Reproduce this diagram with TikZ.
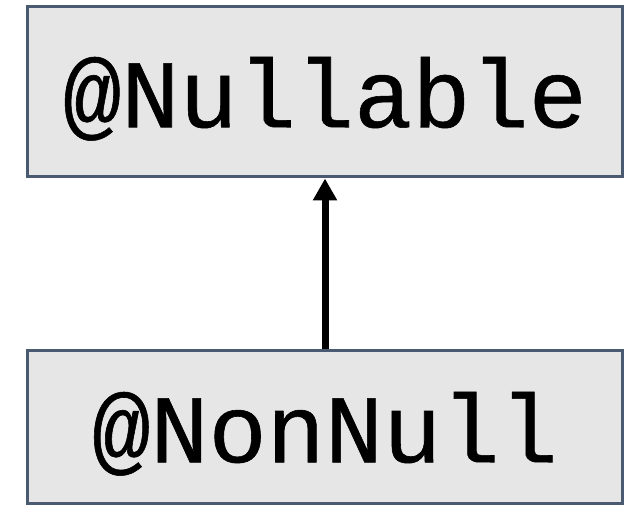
\documentclass[tikz,border=0pt]{standalone}
\usepackage{fontspec}
\setmonofont[FakeBold=0.6]{Liberation Mono}
\usetikzlibrary{arrows.meta}
\definecolor{boxedge}{RGB}{74,90,112}
\definecolor{boxfill}{RGB}{230,230,230}
\tikzset{
  annot/.style={draw=boxedge, fill=boxfill, line width=3pt, rectangle,
    minimum width=595pt, inner sep=0pt,
    font=\ttfamily\fontsize{97}{100}\selectfont,
    text height=79pt, text depth=8pt},
  inherits/.style={draw=black, line width=7pt,
    -{Triangle[length=22pt,width=23pt]}}
}
\begin{document}
\begin{tikzpicture}[x=1pt,y=-1pt]
  \useasboundingbox (0,0) rectangle (629,505);
  \node[annot, minimum height=170.5pt] (nullable) at (325,91.75) {@Nullable};
  \node[annot, minimum height=153.5pt] (nonnull) at (325,426.75) {@NonNull};
  \draw[inherits] (nonnull.north) -- (nullable.south);
\end{tikzpicture}
\end{document}
